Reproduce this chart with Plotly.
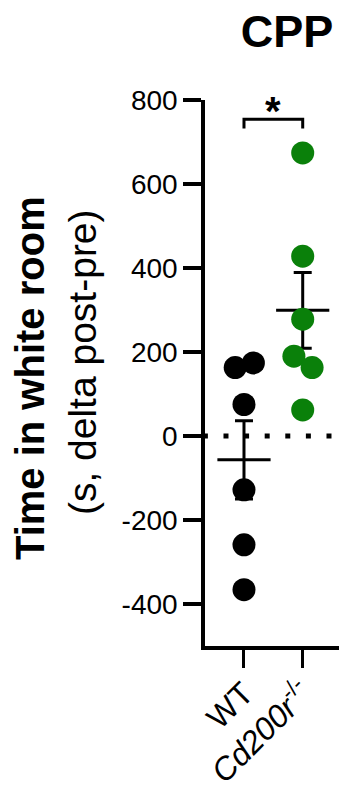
import numpy as np
import plotly.graph_objects as go

# ---- data ----
groups = ["WT", "Cd200r-/-"]
group_ticktext = ["WT", "<i>Cd200r</i><sup>-/-</sup>"]
wt_values = [163, 174, 75, -128, -259, -366]
ko_values = [674, 428, 278, 190, 163, 62]
wt_jitter = [-0.15, 0.16, 0.0, 0.0, 0.0, 0.0]
ko_jitter = [0.0, 0.0, 0.0, -0.15, 0.16, 0.0]
y_ticks = [-400, -200, 0, 200, 400, 600, 800]
y_ticktext = ["-400", "-200", "0", "200", "400", "600", "800"]
sig_label = "*"

GREEN = "#0a800a"
FONT = "Arial, 'Liberation Sans', Helvetica, sans-serif"

def mean_sem(v):
    a = np.array(v, dtype=float)
    return a.mean(), a.std(ddof=1) / np.sqrt(len(a))

fig = go.Figure()

# dotted zero line
fig.add_trace(go.Scatter(x=[-0.7, 1.7], y=[0, 0], mode="lines",
                         line=dict(color="black", width=5, dash="5px,15.6px"),
                         hoverinfo="skip", showlegend=False, cliponaxis=True))

# mean +/- SEM
for i, vals in enumerate([wt_values, ko_values]):
    m, s = mean_sem(vals)
    fig.add_trace(go.Scatter(
        x=[i], y=[m], mode="markers",
        marker=dict(symbol="line-ew-open", size=38, color="black",
                    line=dict(color="black", width=3)),
        error_y=dict(type="data", array=[s], visible=True, color="black", thickness=3, width=9),
        showlegend=False, cliponaxis=False))

# points
fig.add_trace(go.Scatter(x=[0 + j for j in wt_jitter], y=wt_values, mode="markers",
                         marker=dict(color="black", size=23), showlegend=False, cliponaxis=False))
fig.add_trace(go.Scatter(x=[1 + j for j in ko_jitter], y=ko_values, mode="markers",
                         marker=dict(color=GREEN, size=23), showlegend=False, cliponaxis=False))

# significance bracket
fig.add_trace(go.Scatter(x=[0, 0, 1, 1], y=[732, 754, 754, 732], mode="lines",
                         line=dict(color="black", width=3), showlegend=False,
                         hoverinfo="skip", cliponaxis=False))
fig.add_annotation(x=0.5, y=754, xref="x", yref="y", text="<b>" + sig_label + "</b>",
                   showarrow=False, font=dict(family=FONT, size=40, color="black"),
                   yanchor="bottom", yshift=-16)

# y-axis title lines
fig.add_annotation(xref="paper", yref="y", x=0, y=138, xshift=-175, text="<b>Time in white room</b>",
                   textangle=-90, showarrow=False, font=dict(family=FONT, size=40, color="black"),
                   xanchor="center", yanchor="middle")
fig.add_annotation(xref="paper", yref="y", x=0, y=176, xshift=-123, text="(s, delta post-pre)",
                   textangle=-90, showarrow=False, font=dict(family=FONT, size=39, color="black"),
                   xanchor="center", yanchor="middle")

fig.update_layout(
    width=339, height=787,
    margin=dict(l=205, r=0, t=100, b=141, autoexpand=False),
    plot_bgcolor="white", paper_bgcolor="white",
    font=dict(family=FONT, size=28, color="black"),
    title=dict(text="<b>CPP</b>", x=287/339, y=1-31.5/787, xanchor="center", yanchor="middle",
               xref="container", yref="container", font=dict(family=FONT, size=45, color="black")),
    xaxis=dict(range=[-0.664, 1.618], tickvals=[0, 1], ticktext=group_ticktext, tickangle=-45,
               showline=True, linecolor="black", linewidth=3.5, ticks="outside", ticklen=18,
               tickwidth=3, tickcolor="black", showgrid=False, zeroline=False, automargin=False,
               ticklabelstandoff=-6,
               tickfont=dict(family=FONT, size=32, color="black")),
    yaxis=dict(range=[-500, 800], tickvals=y_ticks, ticktext=y_ticktext, showline=True,
               linecolor="black", linewidth=3.5, automargin=False,
               ticks="outside", ticklen=18, tickwidth=3.5, tickcolor="black", showgrid=False,
               zeroline=False, tickfont=dict(family=FONT, size=28, color="black")),
)

fig.write_html("out.html")
